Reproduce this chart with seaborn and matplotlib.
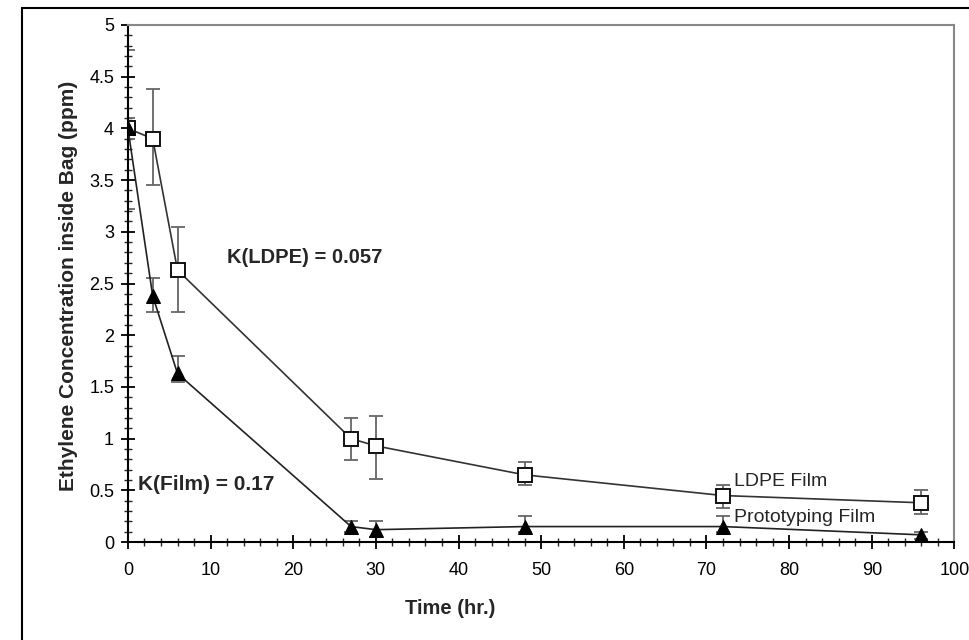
import numpy as np
import pandas as pd
import matplotlib
matplotlib.use("Agg")
import matplotlib.pyplot as plt
import seaborn as sns
from matplotlib.lines import Line2D
from matplotlib.ticker import MultipleLocator, FuncFormatter

# data
time_hr = [0, 3, 6, 27, 30, 48, 72, 96]
ldpe_mean = [4.0, 3.9, 2.63, 1.0, 0.93, 0.65, 0.45, 0.38]
ldpe_lo = [3.9, 3.45, 2.22, 0.79, 0.61, 0.55, 0.33, 0.27]
ldpe_hi = [4.1, 4.38, 3.05, 1.2, 1.22, 0.77, 0.55, 0.50]
film_mean = [4.0, 2.38, 1.63, 0.15, 0.12, 0.15, 0.15, 0.07]
film_lo = [3.22, 2.22, 1.55, 0.10, 0.05, 0.10, 0.10, 0.03]
film_hi = [4.76, 2.55, 1.80, 0.20, 0.20, 0.25, 0.25, 0.10]

sns.set_style("white")
plt.rcParams['font.family'] = ['Liberation Sans', 'DejaVu Sans']

df = pd.DataFrame({
    'Time': time_hr * 2,
    'Conc': ldpe_mean + film_mean,
    'Film': ['LDPE Film'] * len(time_hr) + ['Prototyping Film'] * len(time_hr),
})

fig = plt.figure(figsize=(9.69, 6.4), dpi=100)
ax = fig.add_axes([0.132, 0.153, 0.853, 0.808])

# error bars first so markers sit on top
for mean, lo, hi in [(ldpe_mean, ldpe_lo, ldpe_hi), (film_mean, film_lo, film_hi)]:
    m = np.array(mean)
    yerr = [m - np.array(lo), np.array(hi) - m]
    ax.errorbar(time_hr, m, yerr=yerr, fmt='none', ecolor='#666666',
                elinewidth=1.3, capsize=5, capthick=1.3, zorder=2)

sns.lineplot(data=df, x='Time', y='Conc', hue='Film', style='Film',
             palette={'LDPE Film': '#333333', 'Prototyping Film': '#222222'},
             markers={'LDPE Film': 's', 'Prototyping Film': '^'},
             dashes=False, linewidth=1.2, legend=False, ax=ax, zorder=3)

# open squares, filled triangles
for ln in ax.get_lines():
    if ln.get_marker() == 's':
        ln.set_markerfacecolor('white')
        ln.set_markeredgecolor('#111111')
        ln.set_markersize(10.5)
        ln.set_markeredgewidth(1.4)
    elif ln.get_marker() == '^':
        ln.set_markerfacecolor('black')
        ln.set_markeredgecolor('black')
        ln.set_markersize(10)

ax.set_xlim(0, 100)
ax.set_ylim(0, 5)
ax.xaxis.set_major_locator(MultipleLocator(10))
ax.xaxis.set_minor_locator(MultipleLocator(2))
ax.yaxis.set_major_locator(MultipleLocator(0.5))
ax.yaxis.set_minor_locator(MultipleLocator(0.1))
ax.yaxis.set_major_formatter(FuncFormatter(lambda v, p: f'{v:g}'))

ax.tick_params(which='major', direction='inout', length=10, width=1.3,
               labelsize=13, bottom=True, left=True, colors='black')
ax.tick_params(which='minor', direction='inout', length=6, width=1.0,
               bottom=True, left=True)
ax.tick_params(axis='x', pad=9)
ax.tick_params(axis='y', pad=5)

for side in ['left', 'bottom']:
    ax.spines[side].set_color('black')
    ax.spines[side].set_linewidth(1.5)
for side in ['top', 'right']:
    ax.spines[side].set_color('#888888')
    ax.spines[side].set_linewidth(1.5)

ax.set_xlabel('Time (hr.)', fontsize=14.5, fontweight='bold')
ax.set_ylabel('Ethylene Concentration inside Bag (ppm)', fontsize=15,
              fontweight='bold')
ax.xaxis.set_label_coords(0.39, -0.11)
ax.yaxis.set_label_coords(-0.06, 0.495)

ax.text(12.0, 2.75, 'K(LDPE) = 0.057', fontsize=14.5, fontweight='bold', va='center')
ax.text(1.2, 0.56, 'K(Film) = 0.17', fontsize=15, fontweight='bold', va='center')
ax.text(73.3, 0.59, 'LDPE Film', fontsize=14, va='center')
ax.text(73.3, 0.24, 'Prototyping Film', fontsize=14, va='center')

# outer frame of the original figure
fig.add_artist(Line2D([22 / 969, 1.0], [1 - 8 / 640, 1 - 8 / 640], color='black', linewidth=1.5))
fig.add_artist(Line2D([22 / 969, 22 / 969], [0.0, 1 - 8 / 640], color='black', linewidth=1.5))

fig.savefig('out.png', dpi=100)
